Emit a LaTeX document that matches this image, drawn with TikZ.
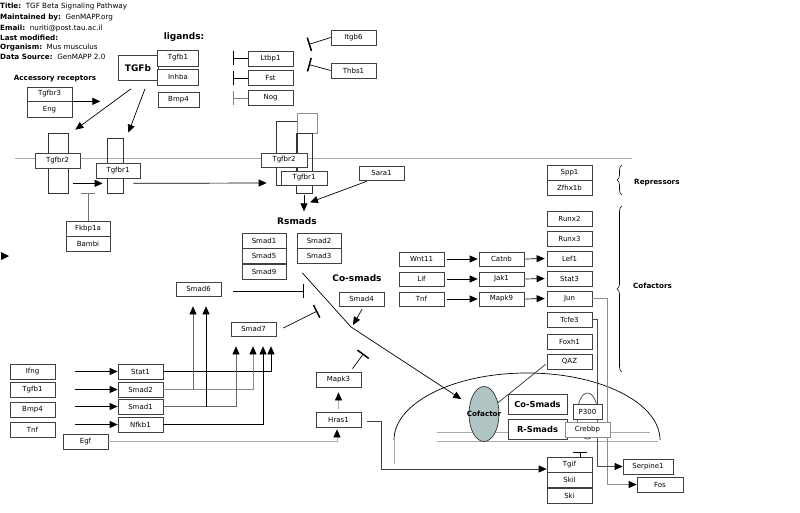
\documentclass[tikz,border=0pt]{standalone}
\usepackage{fontspec}
\setmainfont{DejaVu Sans}
\usetikzlibrary{positioning,arrows.meta,calc,shapes.geometric,decorations.pathreplacing}
\definecolor{cofill}{RGB}{176,196,196}
\definecolor{memgray}{RGB}{170,170,170}
\newcommand{\gf}{\fontsize{7}{8}\selectfont}
\newcommand{\bigb}{\bfseries\fontsize{9}{10}\selectfont}
\newcommand{\smb}{\bfseries\fontsize{7.2}{8}\selectfont}

\begin{document}
\begin{tikzpicture}[x=1pt,y=-1pt,
    gene/.style={draw=black!75, line width=0.7pt, fill=white, minimum width=45pt,
                 minimum height=15pt, inner sep=0pt, font=\gf},
    rbar/.style={draw=black!80, line width=0.7pt, inner sep=0pt},
    act/.style={-{Triangle[length=8pt,width=7pt,color=black]}, line width=0.7pt},
    inh/.style={-{Bar[width=14pt,line width=1.5pt]}, line width=0.7pt},
    memb/.style={draw=memgray, line width=0.8pt},
    hdr/.style={anchor=west, inner sep=0pt, font=\fontsize{7.2}{8}\selectfont},
    grp/.style={inner sep=0pt, font=\bigb},
    note/.style={inner sep=0pt, font=\smb}
]
    \useasboundingbox (0,0) rectangle (800,513);

    % Header
    \node[hdr] (title)    at (0,7)  {\textbf{Title:}\ \ TGF Beta Signaling Pathway};
    \node[hdr] (maint)    at (0,18) {\textbf{Maintained by:}\ \ GenMAPP.org};
    \node[hdr] (email)    at (0,29) {\textbf{Email:}\ \ nuriti@post.tau.ac.il};
    \node[hdr] (lastmod)  at (0,38) {\textbf{Last modified:}};
    \node[hdr] (organism) at (0,48) {\textbf{Organism:}\ \ Mus musculus};
    \node[hdr] (source)   at (0,57) {\textbf{Data Source:}\ \ GenMAPP 2.0};

    % Membranes
    \draw[memb] (15,158) -- (632,158);
    \draw[line width=0.7pt] (394,440) arc[start angle=180, end angle=360, x radius=133, y radius=67];
    \draw[memb] (394,440) -- (394,464);
    \draw[memb] (437,432) -- (650,432);
    \draw[memb] (437,441) -- (658,441);
    \fill (1,252) -- (9,256) -- (1,260) -- cycle;

    % Ligands
    \node[grp] (ligands) at (184,37) {ligands:};
    \node[gene, font=\bigb, minimum width=40pt, minimum height=25pt] (tgfb) at (138,68) {TGFb};
    \node[gene, minimum width=41pt, minimum height=16pt] (tgfb1) at (178,58) {Tgfb1};
    \node[gene, minimum width=41pt, minimum height=16pt] (inhba) at (178,77) {Inhba};
    \node[gene, minimum width=41pt] (bmp4) at (178.5,100) {Bmp4};

    \node[gene] (ltbp1) at (270.5,58.5) {Ltbp1};
    \node[gene] (fst)   at (270.5,78)   {Fst};
    \node[gene] (nog)   at (270.5,98)   {Nog};
    \node[gene] (itgb6) at (353.5,37.5) {Itgb6};
    \node[gene] (thbs1) at (353.5,70.5) {Thbs1};
    \draw[inh] (ltbp1.west) -- ++(-15,0);
    \draw[inh] (fst.west) -- ++(-15,0);
    \draw[inh, draw=black!50] (nog.west) -- ++(-15,0);
    \draw[inh] (itgb6.west) -- ++(-22,7);
    \draw[inh] (thbs1.west) -- ++(-22,-6);

    % Accessory receptors
    \node[note] (accrec) at (55,79) {Accessory receptors};
    \node[gene, minimum height=14pt] (tgfbr3) at (49.5,94) {Tgfbr3};
    \node[gene, minimum height=16pt, below=0pt of tgfbr3] (eng) {Eng};
    \draw[act] (tgfbr3.south east) -- ++(28,0);

    % Receptors
    \node[rbar, minimum width=20pt, minimum height=60pt] (r2left)  at (58,163) {};
    \node[rbar, minimum width=16pt, minimum height=55pt] (r1left)  at (115,165.5) {};
    \node[rbar, minimum width=21pt, minimum height=64pt] (r2right) at (286.5,153) {};
    \node[rbar, draw=black!45, minimum width=20pt, minimum height=20pt] (r2cap) at (307,123) {};
    \node[rbar, minimum width=16pt, minimum height=60pt] (r1right) at (304,163) {};
    \node[gene, minimum width=45pt] (tgfbr2l) at (57.5,160.5) {Tgfbr2};
    \node[gene, minimum width=44pt] (tgfbr1l) at (118,170.5) {Tgfbr1};
    \node[gene, minimum width=46pt, minimum height=14pt] (tgfbr2r) at (284,160) {Tgfbr2};
    \node[gene, minimum width=46pt, minimum height=14pt] (tgfbr1r) at (304,178) {Tgfbr1};

    \draw[act] ($(tgfb.south)+(-7,8)$) -- ($(r2left.north east)+(7,-3)$);
    \draw[act] ($(tgfb.south)+(7,8)$) -- ($(r1left.north east)+(5,-5)$);
    \draw[act] ($(r2left.south east)+(5,-10)$) -- ($(r1left.south west)+(-4,-10)$);
    \draw[act] ($(r1left.south east)+(10,-10)$) -- ($(r2right.west)+(-9,30)$);

    \node[gene, minimum width=44pt] (fkbp) at (88,228.5) {Fkbp1a};
    \node[gene, minimum width=44pt, below=0pt of fkbp] (bambi) {Bambi};
    \draw[inh, draw=black!55] (fkbp.north) -- ++(0,-28);

    \node[gene, minimum height=14pt] (sara) at (381.5,173) {Sara1};
    \draw[act] ($(r1right.south)+(0,2)$) -- ++(0,16);
    \draw[act] ($(sara.south west)+(8,1)$) -- ($(r1right.south)+(6,9)$);

    % Smads
    \node[grp] (rsmads) at (297,221) {Rsmads};
    \node[gene, minimum width=44pt] (smad1r) at (264,240.5) {Smad1};
    \node[gene, minimum width=44pt, below=0pt of smad1r] (smad5) {Smad5};
    \node[gene, minimum width=44pt, below=0pt of smad5] (smad9) {Smad9};
    \node[gene, minimum width=44pt] (smad2r) at (319,240.5) {Smad2};
    \node[gene, minimum width=44pt, below=0pt of smad2r] (smad3) {Smad3};

    \node[grp] (cosmads) at (357,278) {Co-smads};
    \node[gene, minimum height=14pt] (smad4) at (361.5,299) {Smad4};
    \node[gene, minimum height=14pt] (smad6) at (198.5,289) {Smad6};
    \node[gene, minimum height=14pt] (smad7) at (253.5,329) {Smad7};

    \node[ellipse, draw=black!80, line width=0.7pt, fill=cofill, minimum width=30pt,
          minimum height=55pt, inner sep=0pt, label={[note]center:Cofactor}] (cof) at (484,414) {};

    \coordinate (join) at (351,327);
    \draw[act, shorten >=10pt] ($(smad9.east)+(16,1)$) -- (join) -- (cof);
    \draw[act] ($(smad4.south)+(0.5,3)$) -- ($(join)+(2,-2)$);
    \draw[inh] ($(smad6.east)+(12,2)$) -- ++(71,0);
    \draw[inh] ($(smad7.east)+(7,-1)$) -- ++(34,-17);

    % Inputs to Smad6 and Smad7
    \node[gene] (ifng)  at (32.5,371.5) {Ifng};
    \node[gene] (tgfb1b) at (32.5,389.5) {Tgfb1};
    \node[gene] (bmp4b) at (32.5,409.5) {Bmp4};
    \node[gene] (tnfb)  at (32.5,429.5) {Tnf};
    \node[gene] (stat1) at (140.5,371.5) {Stat1};
    \node[gene] (smad2) at (140.5,389.5) {Smad2};
    \node[gene] (smad1) at (140.5,406.5) {Smad1};
    \node[gene] (nfkb1) at (140.5,424.5) {Nfkb1};
    \node[gene] (egf)   at (85.5,441.5) {Egf};

    \draw[act] ([xshift=20pt]ifng.east) -- (stat1.west);
    \draw[act] ([xshift=20pt]tgfb1b.east) -- (smad2.west);
    \draw[act] ([xshift=-43pt]smad1.west) -- (smad1.west);
    \draw[act] ([xshift=-43pt]nfkb1.west) -- (nfkb1.west);

    \coordinate (s6a) at ($(smad6.south)+(-5.5,10)$);
    \coordinate (s6b) at ($(smad6.south)+(7.5,10)$);
    \coordinate (s7a) at ($(smad7.south)+(-17.5,10)$);
    \coordinate (s7b) at ($(smad7.south)+(-0.5,10)$);
    \coordinate (s7c) at ($(smad7.south)+(9.5,10)$);
    \coordinate (s7d) at ($(smad7.south)+(17.5,10)$);
    \draw[act] (stat1.east) -| (s7d);
    \draw[act, draw=black!45] (smad2.east) -| (s7b);
    \draw[act, draw=black!60] (smad2.east -| s6a) -- (s6a);
    \draw[act, draw=black!60] (smad1.east) -| (s7a);
    \draw[act] (smad1.east -| s6b) -- (s6b);
    \draw[act] (nfkb1.east) -| (s7c);

    % MAPK branch
    \node[gene] (mapk3) at (338.5,379.5) {Mapk3};
    \node[gene] (hras1) at (338.5,419.5) {Hras1};
    \draw[act, draw=memgray] (egf.east) -| ($(hras1.south)+(-1.5,2)$);
    \draw[act, draw=memgray] ($(hras1.north)+(0,-3)$) -- ($(mapk3.south)+(0,5)$);
    \draw[inh] ($(mapk3.north)+(14,-3)$) -- ++(11,-15);

    % Cofactor cascades
    \node[gene, minimum height=14pt] (wnt11) at (421.5,259) {Wnt11};
    \node[gene, minimum height=14pt] (catnb) at (501.5,259) {Catnb};
    \node[gene, minimum height=14pt] (lif)   at (421.5,279) {Lif};
    \node[gene, minimum height=14pt] (jak1)  at (501.5,279) {Jak1};
    \node[gene, minimum height=14pt] (tnf)   at (421.5,299) {Tnf};
    \node[gene, minimum height=14pt] (mapk9) at (501.5,299) {Mapk9};

    \node[gene] (spp1)   at (569.5,172.5) {Spp1};
    \node[gene, below=0pt of spp1] (zfhx1b) {Zfhx1b};
    \node[gene] (runx2)  at (569.5,218.5) {Runx2};
    \node[gene] (runx3)  at (569.5,239) {Runx3};
    \node[gene] (lef1)   at (569.5,258.5) {Lef1};
    \node[gene] (stat3)  at (569.5,278.5) {Stat3};
    \node[gene] (jun)    at (569.5,298.5) {Jun};
    \node[gene] (tcfe3)  at (569.5,319.5) {Tcfe3};
    \node[gene] (foxh1)  at (569.5,341.5) {Foxh1};
    \node[gene] (qaz)    at (569.5,361.5) {QAZ};

    \draw[act] ([xshift=3pt]wnt11.east) -- ([xshift=-1pt]catnb.west);
    \draw[act] ([xshift=1pt]catnb.east) -- ([xshift=-2pt]lef1.west);
    \draw[act] ([xshift=3pt]lif.east) -- ([xshift=-1pt]jak1.west);
    \draw[act] ([xshift=1pt]jak1.east) -- ([xshift=-2pt]stat3.west);
    \draw[act] ([xshift=3pt]tnf.east) -- ([xshift=-1pt]mapk9.west);
    \draw[act] ([xshift=1pt]mapk9.east) -- ([xshift=-2pt]jun.west);

    \draw[line width=0.6pt, decorate, decoration={brace, amplitude=5pt}] (622,195) -- (622,165);
    \draw[line width=0.6pt, decorate, decoration={brace, amplitude=5pt}] (622,372) -- (622,206);
    \node[note, anchor=west] (repressors) at (634,183) {Repressors};
    \node[note, anchor=west] (cofactors)  at (633,286) {Cofactors};

    % Nucleus
    \draw[line width=0.7pt, draw=black!80] ($(qaz.south west)+(-1,-5)$) -- (cof);
    \node[gene, minimum width=50pt] (serpine) at (648,466.5) {Serpine1};
    \node[gene, minimum width=46pt] (fos)     at (660,484.5) {Fos};
    \draw[act, draw=black!45] (jun.east) -- ++(15,0) |- (fos.west);
    \draw[act, draw=black!70] (tcfe3.east) -- ++(5,0) |- (serpine.west);

    \node[ellipse, draw=black!80, line width=0.6pt, fill=white, minimum width=21pt,
          minimum height=46pt, inner sep=0pt] (p300oval) at (587.5,416) {};
    \node[gene, font=\bfseries\fontsize{8.3}{9}\selectfont, minimum width=59pt, minimum height=20pt] (cosm) at (537.5,404) {Co-Smads};
    \node[gene, font=\bfseries\fontsize{8.3}{9}\selectfont, minimum width=59pt, minimum height=20pt] (rsm)  at (537.5,429) {R-Smads};
    \node[gene, minimum width=29pt] (p300)   at (587.5,411.5) {P300};
    \node[gene, draw=black!45] (crebbp) at (587.5,429.5) {Crebbp};

    \node[gene] (tgif) at (569.5,464.5) {Tgif};
    \node[gene, below=0pt of tgif] (skil) {Skil};
    \node[gene, below=0pt of skil] (ski) {Ski};
    \draw[inh] ([xshift=10.5pt]tgif.north) -- ++(0,-5);
    \draw[act, draw=black!75] ($(hras1.east)+(6,2)$) -- ++(14,0) |- ([yshift=-4.5pt]tgif.west);
\end{tikzpicture}
\end{document}
